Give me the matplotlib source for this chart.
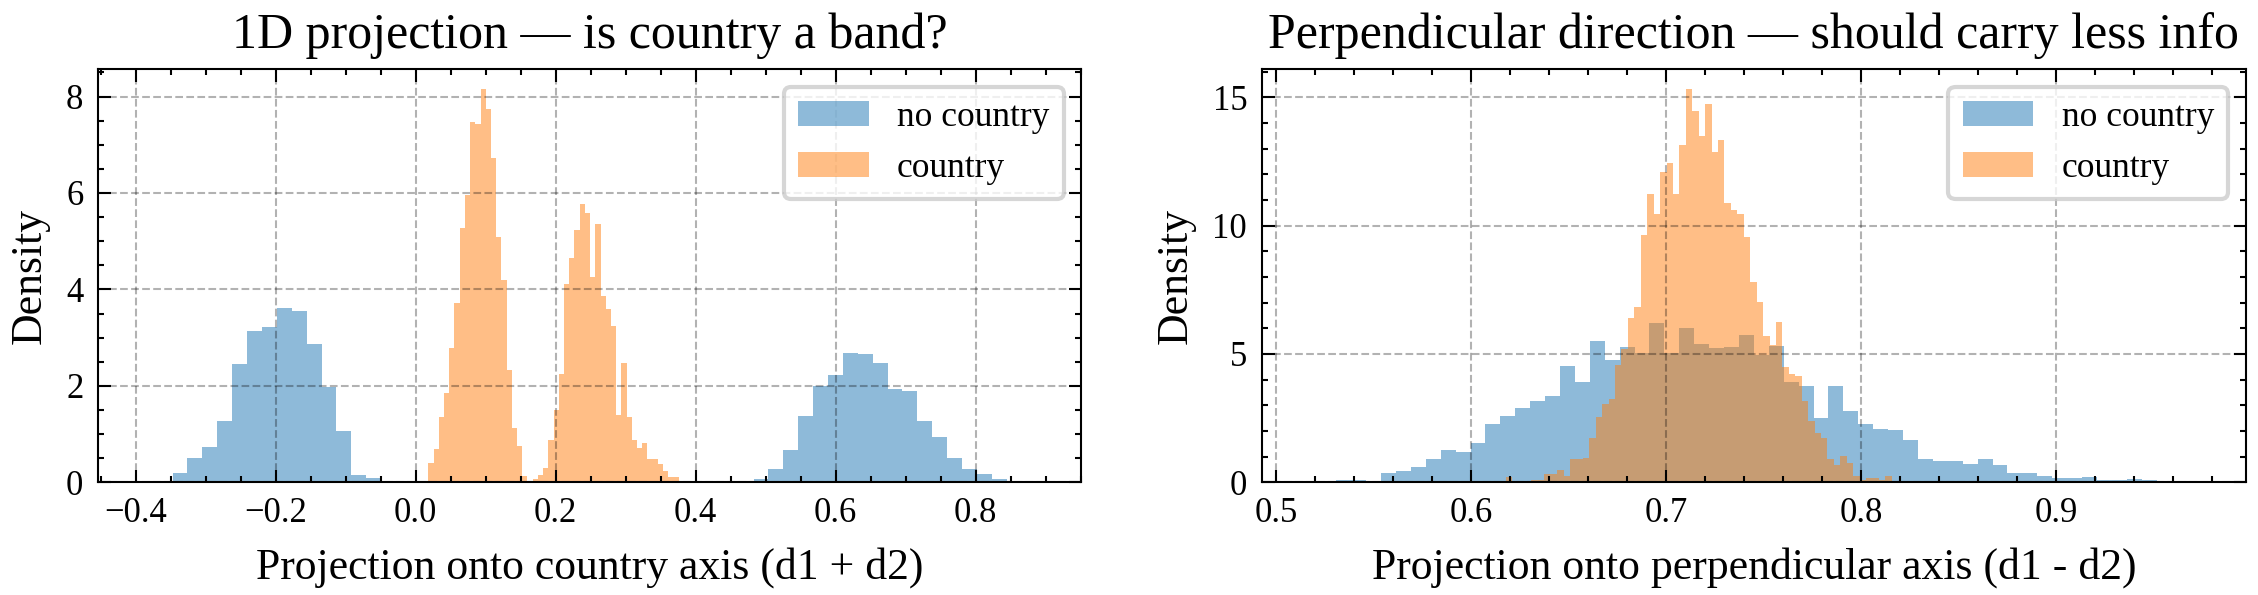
import numpy as np
import matplotlib
matplotlib.use("Agg")
import matplotlib.pyplot as plt

plt.rcParams['font.family'] = 'serif'
plt.rcParams['font.serif'] = ['Liberation Serif', 'DejaVu Serif']
plt.rcParams['axes.linewidth'] = 0.5
for ax_name in ['xtick', 'ytick']:
    plt.rcParams[ax_name + '.direction'] = 'in'
    plt.rcParams[ax_name + '.major.size'] = 3
    plt.rcParams[ax_name + '.major.width'] = 0.5
    plt.rcParams[ax_name + '.minor.size'] = 1.5
    plt.rcParams[ax_name + '.minor.width'] = 0.5
    plt.rcParams[ax_name + '.minor.visible'] = True
    plt.rcParams[ax_name + '.labelsize'] = 8.3
plt.rcParams['xtick.top'] = True
plt.rcParams['ytick.right'] = True

# ---- data: density per bin, 60 bins per class over each class range ----
n_bins = 60
labels = ['no country', 'country']

# left panel: projection onto d1 + d2
sum_range_no = (-0.390, 0.887)
sum_dens_no = [0.02, 0, 0.20, 0.51, 0.74, 1.28, 2.45, 3.14, 3.22, 3.62,
               3.56, 2.87, 1.97, 1.06, 0.16, 0.08, 0, 0.02, 0, 0,
               0, 0, 0, 0, 0, 0, 0, 0, 0, 0,
               0, 0, 0, 0, 0, 0, 0, 0, 0, 0,
               0, 0.06, 0.27, 0.66, 1.37, 2.00, 2.22, 2.69, 2.66, 2.47,
               1.93, 1.89, 1.28, 0.93, 0.51, 0.27, 0.17, 0.06, 0.03, 0.02]
sum_range_yes = (0.0031, 0.4503)
sum_dens_yes = [0.02, 0, 0.41, 0.69, 1.35, 1.85, 2.79, 3.72, 5.28, 5.95,
                7.47, 7.43, 8.16, 7.74, 6.72, 5.08, 4.19, 2.33, 1.12, 0.76,
                0.14, 0.02, 0.06, 0.15, 0.29, 0.87, 1.49, 2.25, 4.12, 4.66,
                5.24, 5.78, 5.58, 4.26, 5.36, 3.87, 3.60, 3.24, 1.39, 2.47,
                1.35, 0.87, 0.72, 0.81, 0.49, 0.49, 0.37, 0.24, 0.10, 0.10,
                0.02, 0, 0.02, 0, 0.02, 0, 0.02, 0, 0, 0.02]

# right panel: projection onto d1 - d2
diff_range_no = (0.5157, 0.9745)
diff_dens_no = [0.04, 0, 0.10, 0.10, 0, 0.38, 0.45, 0.61, 0.92, 1.27,
                1.19, 1.55, 2.29, 2.60, 2.88, 3.15, 3.35, 4.52, 3.89, 5.49,
                4.75, 5.26, 5.05, 6.20, 5.05, 6.00, 5.38, 5.22, 5.26, 5.73,
                4.95, 5.30, 3.89, 3.74, 2.49, 3.74, 2.76, 2.29, 2.06, 2.02,
                1.63, 0.92, 0.82, 0.82, 0.73, 0.89, 0.69, 0.36, 0.36, 0.26,
                0.18, 0.18, 0.22, 0.10, 0.10, 0.14, 0.08, 0.05, 0, 0.04]
diff_range_yes = (0.6178, 0.8158)
diff_dens_yes = [0.20, 0, 0, 0, 0.10, 0.10, 0.34, 0.34, 0.46, 0.26,
                 0.89, 0.89, 0.96, 1.74, 2.53, 3.07, 3.23, 4.56, 5.18, 6.39,
                 6.82, 9.64, 11.24, 10.46, 12.10, 12.45, 11.24, 13.15, 15.34, 14.48,
                 13.50, 14.75, 12.88, 13.35, 10.89, 10.61, 10.46, 9.56, 7.80, 7.02,
                 5.69, 5.34, 6.24, 4.48, 4.21, 4.13, 3.15, 2.38, 1.93, 1.74,
                 0.89, 0.69, 1.04, 0.76, 0.26, 0.08, 0.18, 0.18, 0.10, 0.26]

panels = [
    dict(title='1D projection \u2014 is country a band?',
         xlabel='Projection onto country axis (d1 + d2)',
         series=[(sum_range_no, sum_dens_no), (sum_range_yes, sum_dens_yes)],
         xlim=(-0.454, 0.951), ylim=(0, 8.57)),
    dict(title='Perpendicular direction \u2014 should carry less info',
         xlabel='Projection onto perpendicular axis (d1 - d2)',
         series=[(diff_range_no, diff_dens_no), (diff_range_yes, diff_dens_yes)],
         xlim=(0.4928, 0.9974), ylim=(0, 16.1)),
]

fig = plt.figure(figsize=(2258 / 300, 595 / 300), dpi=300)
boxes = [[0.0434, 0.1894, 0.4355, 0.6946], [0.5588, 0.1894, 0.4359, 0.6946]]

for box, p in zip(boxes, panels):
    ax = fig.add_axes(box)
    for (rng, dens), lab, col in zip(p['series'], labels, ['C0', 'C1']):
        edges = np.linspace(rng[0], rng[1], n_bins + 1)
        ax.hist(edges[:-1], bins=edges, weights=dens, alpha=0.5,
                color=col, label=lab)
    ax.set_xlim(*p['xlim'])
    ax.set_ylim(*p['ylim'])
    ax.grid(True, linestyle='--', linewidth=0.5, color='k', alpha=0.3)
    ax.set_title(p['title'], fontsize=12, pad=5)
    ax.set_xlabel(p['xlabel'], fontsize=10.5)
    ax.set_ylabel('Density', fontsize=10.5)
    ax.legend(loc='upper right', fontsize=8.5)

fig.savefig('out.png', dpi=300)
